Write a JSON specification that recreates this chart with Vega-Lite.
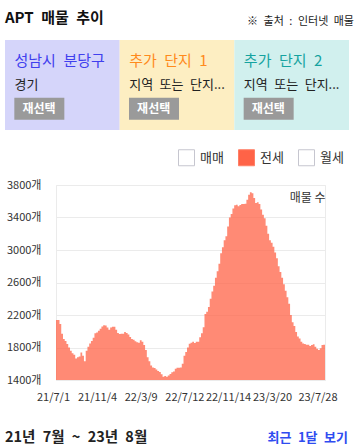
{
  "$schema": "https://vega.github.io/schema/vega-lite/v6.json",
  "padding": 0,
  "background": "white",
  "config": {
    "font": "Noto Sans CJK KR",
    "view": {"stroke": null},
    "text": {"font": "Noto Sans CJK KR"}
  },
  "columns": 1,
  "spacing": 18,
  "resolve": {"scale": {"color": "independent", "fill": "independent"}, "legend": {"color": "independent", "fill": "independent"}},
  "concat": [
    {
      "spacing": 0,
      "resolve": {"scale": {"color": "independent", "fill": "independent"}},
      "vconcat": [
        {
          "width": 354,
          "height": 40,
          "data": {"values": [
            {"text": "APT\u2002매물\u2002추이", "side": "start"},
            {"text": "※\u2002출처\u2002:\u2002인터넷\u2002매물", "side": "end"}
          ]},
          "encoding": {
            "x": {"field": "side", "type": "nominal", "scale": {"type": "point", "domain": ["start", "end"], "padding": 0}, "axis": null},
            "text": {"field": "text"}
          },
          "layer": [
            {"transform": [{"filter": "datum.side === 'start'"}],
             "mark": {"type": "text", "align": "left", "baseline": "middle", "dx": 5, "dy": -2, "fontSize": 15, "fontWeight": "bold", "color": "#111111"}},
            {"transform": [{"filter": "datum.side === 'end'"}],
             "mark": {"type": "text", "align": "right", "baseline": "middle", "dx": 0, "dy": 2, "fontSize": 11, "color": "#222222"}}
          ]
        },
        {
          "width": 354,
          "height": 90,
          "data": {"values": [
            {"area": "성남시\u2002분당구", "sub": "경기", "btn": "재선택"},
            {"area": "추가\u2002단지\u20021", "sub": "지역\u2002또는\u2002단지...", "btn": "재선택"},
            {"area": "추가\u2002단지\u20022", "sub": "지역\u2002또는\u2002단지...", "btn": "재선택"}
          ]},
          "encoding": {
            "x": {"field": "area", "type": "nominal", "sort": null, "scale": {"type": "band", "paddingInner": 0, "paddingOuter": 0.0436}, "axis": null}
          },
          "layer": [
            {"mark": {"type": "rect"},
             "encoding": {"fill": {"field": "area", "type": "nominal", "sort": null, "scale": {"range": ["#d5d5fa", "#fdeec2", "#d1f0ee"]}, "legend": null}}},
            {"mark": {"type": "rect", "color": "#9a9a9a", "width": 50, "xOffset": -23},
             "encoding": {
               "y": {"datum": "btn", "type": "nominal", "scale": {"type": "band", "domain": ["title", "sub", "btn"], "paddingInner": 0.07, "paddingOuter": 0.4375, "align": 0.5}, "axis": null}
             }},
            {"mark": {"type": "text", "align": "left", "baseline": "middle", "dx": 9.5, "fontSize": 15},
             "encoding": {
               "x": {"field": "area", "type": "nominal", "sort": null, "bandPosition": 0},
               "y": {"datum": "title", "type": "nominal"},
               "text": {"field": "area"},
               "color": {"field": "area", "type": "nominal", "sort": null, "scale": {"range": ["#4040ee", "#ff8a1c", "#15a3a0"]}, "legend": null}
             }},
            {"mark": {"type": "text", "align": "left", "baseline": "middle", "dx": 9.5, "fontSize": 13, "color": "#222222"},
             "encoding": {
               "x": {"field": "area", "type": "nominal", "sort": null, "bandPosition": 0},
               "y": {"datum": "sub", "type": "nominal"},
               "text": {"field": "sub"}
             }},
            {"mark": {"type": "text", "align": "center", "baseline": "middle", "dx": 34, "fontSize": 12, "fontWeight": "bold", "color": "#ffffff"},
             "encoding": {
               "x": {"field": "area", "type": "nominal", "sort": null, "bandPosition": 0},
               "y": {"datum": "btn", "type": "nominal"},
               "text": {"field": "btn"}
             }}
          ]
        }
      ]
    },
    {
      "spacing": 0,
      "resolve": {"scale": {"color": "independent"}, "legend": {"color": "independent"}},
      "hconcat": [
        {
          "width": 5,
          "height": 195,
          "data": {"values": []},
          "mark": "point"
        },
        {
          "width": 269,
          "height": 195,
          "view": {"stroke": "#ebebeb"},
          "data": {"values": [
            {"date": "2021-07-01", "count": 2140, "type": "전세"},
            {"date": "2021-07-06", "count": 2140, "type": "전세"},
            {"date": "2021-07-11", "count": 2090, "type": "전세"},
            {"date": "2021-07-16", "count": 1970, "type": "전세"},
            {"date": "2021-07-21", "count": 1905, "type": "전세"},
            {"date": "2021-07-26", "count": 1880, "type": "전세"},
            {"date": "2021-07-31", "count": 1843, "type": "전세"},
            {"date": "2021-08-05", "count": 1800, "type": "전세"},
            {"date": "2021-08-10", "count": 1760, "type": "전세"},
            {"date": "2021-08-15", "count": 1730, "type": "전세"},
            {"date": "2021-08-20", "count": 1710, "type": "전세"},
            {"date": "2021-08-25", "count": 1665, "type": "전세"},
            {"date": "2021-08-30", "count": 1680, "type": "전세"},
            {"date": "2021-09-04", "count": 1690, "type": "전세"},
            {"date": "2021-09-09", "count": 1740, "type": "전세"},
            {"date": "2021-09-14", "count": 1700, "type": "전세"},
            {"date": "2021-09-19", "count": 1630, "type": "전세"},
            {"date": "2021-09-24", "count": 1760, "type": "전세"},
            {"date": "2021-09-29", "count": 1810, "type": "전세"},
            {"date": "2021-10-04", "count": 1850, "type": "전세"},
            {"date": "2021-10-09", "count": 1880, "type": "전세"},
            {"date": "2021-10-14", "count": 1920, "type": "전세"},
            {"date": "2021-10-19", "count": 1975, "type": "전세"},
            {"date": "2021-10-24", "count": 1985, "type": "전세"},
            {"date": "2021-10-29", "count": 2005, "type": "전세"},
            {"date": "2021-11-03", "count": 2030, "type": "전세"},
            {"date": "2021-11-08", "count": 2060, "type": "전세"},
            {"date": "2021-11-13", "count": 2075, "type": "전세"},
            {"date": "2021-11-18", "count": 2070, "type": "전세"},
            {"date": "2021-11-23", "count": 2045, "type": "전세"},
            {"date": "2021-11-28", "count": 2020, "type": "전세"},
            {"date": "2021-12-03", "count": 2045, "type": "전세"},
            {"date": "2021-12-08", "count": 2055, "type": "전세"},
            {"date": "2021-12-13", "count": 2056, "type": "전세"},
            {"date": "2021-12-18", "count": 2020, "type": "전세"},
            {"date": "2021-12-23", "count": 1980, "type": "전세"},
            {"date": "2021-12-28", "count": 1966, "type": "전세"},
            {"date": "2022-01-02", "count": 1970, "type": "전세"},
            {"date": "2022-01-07", "count": 1970, "type": "전세"},
            {"date": "2022-01-12", "count": 1990, "type": "전세"},
            {"date": "2022-01-17", "count": 1980, "type": "전세"},
            {"date": "2022-01-22", "count": 1960, "type": "전세"},
            {"date": "2022-01-27", "count": 1930, "type": "전세"},
            {"date": "2022-02-01", "count": 1905, "type": "전세"},
            {"date": "2022-02-06", "count": 1895, "type": "전세"},
            {"date": "2022-02-11", "count": 1878, "type": "전세"},
            {"date": "2022-02-16", "count": 1865, "type": "전세"},
            {"date": "2022-02-21", "count": 1860, "type": "전세"},
            {"date": "2022-02-26", "count": 1890, "type": "전세"},
            {"date": "2022-03-03", "count": 1870, "type": "전세"},
            {"date": "2022-03-08", "count": 1830, "type": "전세"},
            {"date": "2022-03-13", "count": 1770, "type": "전세"},
            {"date": "2022-03-18", "count": 1680, "type": "전세"},
            {"date": "2022-03-23", "count": 1630, "type": "전세"},
            {"date": "2022-03-28", "count": 1580, "type": "전세"},
            {"date": "2022-04-02", "count": 1555, "type": "전세"},
            {"date": "2022-04-07", "count": 1548, "type": "전세"},
            {"date": "2022-04-12", "count": 1530, "type": "전세"},
            {"date": "2022-04-17", "count": 1512, "type": "전세"},
            {"date": "2022-04-22", "count": 1500, "type": "전세"},
            {"date": "2022-04-27", "count": 1470, "type": "전세"},
            {"date": "2022-05-02", "count": 1440, "type": "전세"},
            {"date": "2022-05-07", "count": 1450, "type": "전세"},
            {"date": "2022-05-12", "count": 1440, "type": "전세"},
            {"date": "2022-05-17", "count": 1455, "type": "전세"},
            {"date": "2022-05-22", "count": 1475, "type": "전세"},
            {"date": "2022-05-27", "count": 1495, "type": "전세"},
            {"date": "2022-06-01", "count": 1505, "type": "전세"},
            {"date": "2022-06-06", "count": 1540, "type": "전세"},
            {"date": "2022-06-11", "count": 1550, "type": "전세"},
            {"date": "2022-06-16", "count": 1550, "type": "전세"},
            {"date": "2022-06-21", "count": 1555, "type": "전세"},
            {"date": "2022-06-26", "count": 1600, "type": "전세"},
            {"date": "2022-07-01", "count": 1700, "type": "전세"},
            {"date": "2022-07-06", "count": 1745, "type": "전세"},
            {"date": "2022-07-11", "count": 1800, "type": "전세"},
            {"date": "2022-07-16", "count": 1845, "type": "전세"},
            {"date": "2022-07-21", "count": 1860, "type": "전세"},
            {"date": "2022-07-26", "count": 1870, "type": "전세"},
            {"date": "2022-07-31", "count": 1855, "type": "전세"},
            {"date": "2022-08-05", "count": 1870, "type": "전세"},
            {"date": "2022-08-10", "count": 1872, "type": "전세"},
            {"date": "2022-08-15", "count": 1925, "type": "전세"},
            {"date": "2022-08-20", "count": 1975, "type": "전세"},
            {"date": "2022-08-25", "count": 2048, "type": "전세"},
            {"date": "2022-08-30", "count": 2212, "type": "전세"},
            {"date": "2022-09-04", "count": 2240, "type": "전세"},
            {"date": "2022-09-09", "count": 2300, "type": "전세"},
            {"date": "2022-09-14", "count": 2400, "type": "전세"},
            {"date": "2022-09-19", "count": 2490, "type": "전세"},
            {"date": "2022-09-24", "count": 2560, "type": "전세"},
            {"date": "2022-09-29", "count": 2660, "type": "전세"},
            {"date": "2022-10-04", "count": 2740, "type": "전세"},
            {"date": "2022-10-09", "count": 2830, "type": "전세"},
            {"date": "2022-10-14", "count": 2960, "type": "전세"},
            {"date": "2022-10-19", "count": 3033, "type": "전세"},
            {"date": "2022-10-24", "count": 3120, "type": "전세"},
            {"date": "2022-10-29", "count": 3170, "type": "전세"},
            {"date": "2022-11-03", "count": 3290, "type": "전세"},
            {"date": "2022-11-08", "count": 3400, "type": "전세"},
            {"date": "2022-11-13", "count": 3443, "type": "전세"},
            {"date": "2022-11-18", "count": 3510, "type": "전세"},
            {"date": "2022-11-23", "count": 3550, "type": "전세"},
            {"date": "2022-11-28", "count": 3558, "type": "전세"},
            {"date": "2022-12-03", "count": 3540, "type": "전세"},
            {"date": "2022-12-08", "count": 3555, "type": "전세"},
            {"date": "2022-12-13", "count": 3567, "type": "전세"},
            {"date": "2022-12-18", "count": 3567, "type": "전세"},
            {"date": "2022-12-23", "count": 3570, "type": "전세"},
            {"date": "2022-12-28", "count": 3620, "type": "전세"},
            {"date": "2023-01-02", "count": 3680, "type": "전세"},
            {"date": "2023-01-07", "count": 3712, "type": "전세"},
            {"date": "2023-01-12", "count": 3700, "type": "전세"},
            {"date": "2023-01-17", "count": 3640, "type": "전세"},
            {"date": "2023-01-22", "count": 3580, "type": "전세"},
            {"date": "2023-01-27", "count": 3587, "type": "전세"},
            {"date": "2023-02-01", "count": 3567, "type": "전세"},
            {"date": "2023-02-06", "count": 3500, "type": "전세"},
            {"date": "2023-02-11", "count": 3435, "type": "전세"},
            {"date": "2023-02-16", "count": 3390, "type": "전세"},
            {"date": "2023-02-21", "count": 3300, "type": "전세"},
            {"date": "2023-02-26", "count": 3200, "type": "전세"},
            {"date": "2023-03-03", "count": 3120, "type": "전세"},
            {"date": "2023-03-08", "count": 3090, "type": "전세"},
            {"date": "2023-03-13", "count": 3040, "type": "전세"},
            {"date": "2023-03-18", "count": 2970, "type": "전세"},
            {"date": "2023-03-23", "count": 2900, "type": "전세"},
            {"date": "2023-03-28", "count": 2800, "type": "전세"},
            {"date": "2023-04-02", "count": 2730, "type": "전세"},
            {"date": "2023-04-07", "count": 2660, "type": "전세"},
            {"date": "2023-04-12", "count": 2580, "type": "전세"},
            {"date": "2023-04-17", "count": 2500, "type": "전세"},
            {"date": "2023-04-22", "count": 2420, "type": "전세"},
            {"date": "2023-04-27", "count": 2340, "type": "전세"},
            {"date": "2023-05-02", "count": 2200, "type": "전세"},
            {"date": "2023-05-07", "count": 2110, "type": "전세"},
            {"date": "2023-05-12", "count": 2065, "type": "전세"},
            {"date": "2023-05-17", "count": 1990, "type": "전세"},
            {"date": "2023-05-22", "count": 1935, "type": "전세"},
            {"date": "2023-05-27", "count": 1910, "type": "전세"},
            {"date": "2023-06-01", "count": 1870, "type": "전세"},
            {"date": "2023-06-06", "count": 1850, "type": "전세"},
            {"date": "2023-06-11", "count": 1843, "type": "전세"},
            {"date": "2023-06-16", "count": 1835, "type": "전세"},
            {"date": "2023-06-21", "count": 1835, "type": "전세"},
            {"date": "2023-06-26", "count": 1820, "type": "전세"},
            {"date": "2023-07-01", "count": 1830, "type": "전세"},
            {"date": "2023-07-06", "count": 1840, "type": "전세"},
            {"date": "2023-07-11", "count": 1810, "type": "전세"},
            {"date": "2023-07-16", "count": 1785, "type": "전세"},
            {"date": "2023-07-21", "count": 1770, "type": "전세"},
            {"date": "2023-07-26", "count": 1790, "type": "전세"},
            {"date": "2023-07-31", "count": 1830, "type": "전세"},
            {"date": "2023-08-05", "count": 1835, "type": "전세"},
            {"date": "2023-08-10", "count": 1835, "type": "전세"}
          ]},
          "mark": {"type": "area", "interpolate": "step-after", "opacity": 0.75, "clip": true},
          "encoding": {
            "x": {
              "field": "date", "type": "temporal",
              "scale": {"type": "utc", "domain": [
                {"year": 2021, "month": 7, "date": 1, "utc": true},
                {"year": 2023, "month": 8, "date": 10, "utc": true}
              ]},
              "axis": {
                "values": [
                  {"year": 2021, "month": 7, "date": 1, "utc": true},
                  {"year": 2021, "month": 11, "date": 4, "utc": true},
                  {"year": 2022, "month": 3, "date": 9, "utc": true},
                  {"year": 2022, "month": 7, "date": 12, "utc": true},
                  {"year": 2022, "month": 11, "date": 14, "utc": true},
                  {"year": 2023, "month": 3, "date": 20, "utc": true},
                  {"year": 2023, "month": 7, "date": 28, "utc": true}
                ],
                "labelExpr": "utcFormat(datum.value, '%y/%-m/%-d')",
                "labelOffset": -3,
                "ticks": false,
                "domain": false,
                "grid": false,
                "labelPadding": 11,
                "labelFontSize": 11,
                "labelColor": "#333333",
                "labelFlush": false,
                "labelOverlap": false,
                "title": null
              }
            },
            "y": {
              "field": "count", "type": "quantitative", "stack": null,
              "scale": {"domain": [1400, 3800], "nice": false, "zero": false},
              "axis": {
                "values": [1400, 1800, 2200, 2600, 3000, 3400, 3800],
                "labelExpr": "datum.value + '개'",
                "ticks": false,
                "domain": false,
                "grid": true,
                "gridColor": "#ebebeb",
                "labelPadding": 15,
                "labelFontSize": 11,
                "labelColor": "#333333",
                "title": "매물 수",
                "titleAngle": 0,
                "titleX": 269,
                "titleY": 12,
                "titleAlign": "right",
                "titleBaseline": "middle",
                "titleFontWeight": "normal",
                "titleFontSize": 12,
                "titleColor": "#333333"
              }
            },
            "color": {
              "field": "type", "type": "nominal",
              "scale": {"domain": ["매매", "전세", "월세"], "range": ["#ffffff", "#ff6347", "#ffffff"]},
              "legend": {
                "orient": "none",
                "legendX": 122,
                "legendY": -36,
                "direction": "horizontal",
                "title": null,
                "symbolType": "square",
                "symbolSize": 256,
                "symbolOpacity": 1,
                "symbolStrokeWidth": 1,
                "labelFontSize": 13,
                "labelColor": "#333333",
                "labelOffset": 5,
                "columnPadding": 12,
                "encode": {"symbols": {"update": {
                  "stroke": [{"test": "datum.value === '전세'", "value": "#ff7f66"}, {"value": "#c6c6cf"}],
                  "strokeWidth": {"value": 1},
                  "opacity": {"value": 1}
                }}}
              }
            }
          }
        }
      ]
    },
    {
      "width": 358,
      "height": 34,
      "data": {"values": [
        {"text": "21년\u20027월\u2002~\u200223년\u20028월", "side": "start"},
        {"text": "최근\u20021달\u2002보기", "side": "end"}
      ]},
      "encoding": {
        "x": {"field": "side", "type": "nominal", "scale": {"type": "point", "domain": ["start", "end"], "padding": 0}, "axis": null},
        "text": {"field": "text"}
      },
      "layer": [
        {"transform": [{"filter": "datum.side === 'start'"}],
         "mark": {"type": "text", "align": "left", "baseline": "middle", "dx": 5, "fontSize": 14.5, "fontWeight": "bold", "color": "#222222"}},
        {"transform": [{"filter": "datum.side === 'end'"}],
         "mark": {"type": "text", "align": "right", "baseline": "middle", "dx": -10, "fontSize": 13, "fontWeight": "bold", "color": "#2f4cf0"}}
      ]
    }
  ]
}
